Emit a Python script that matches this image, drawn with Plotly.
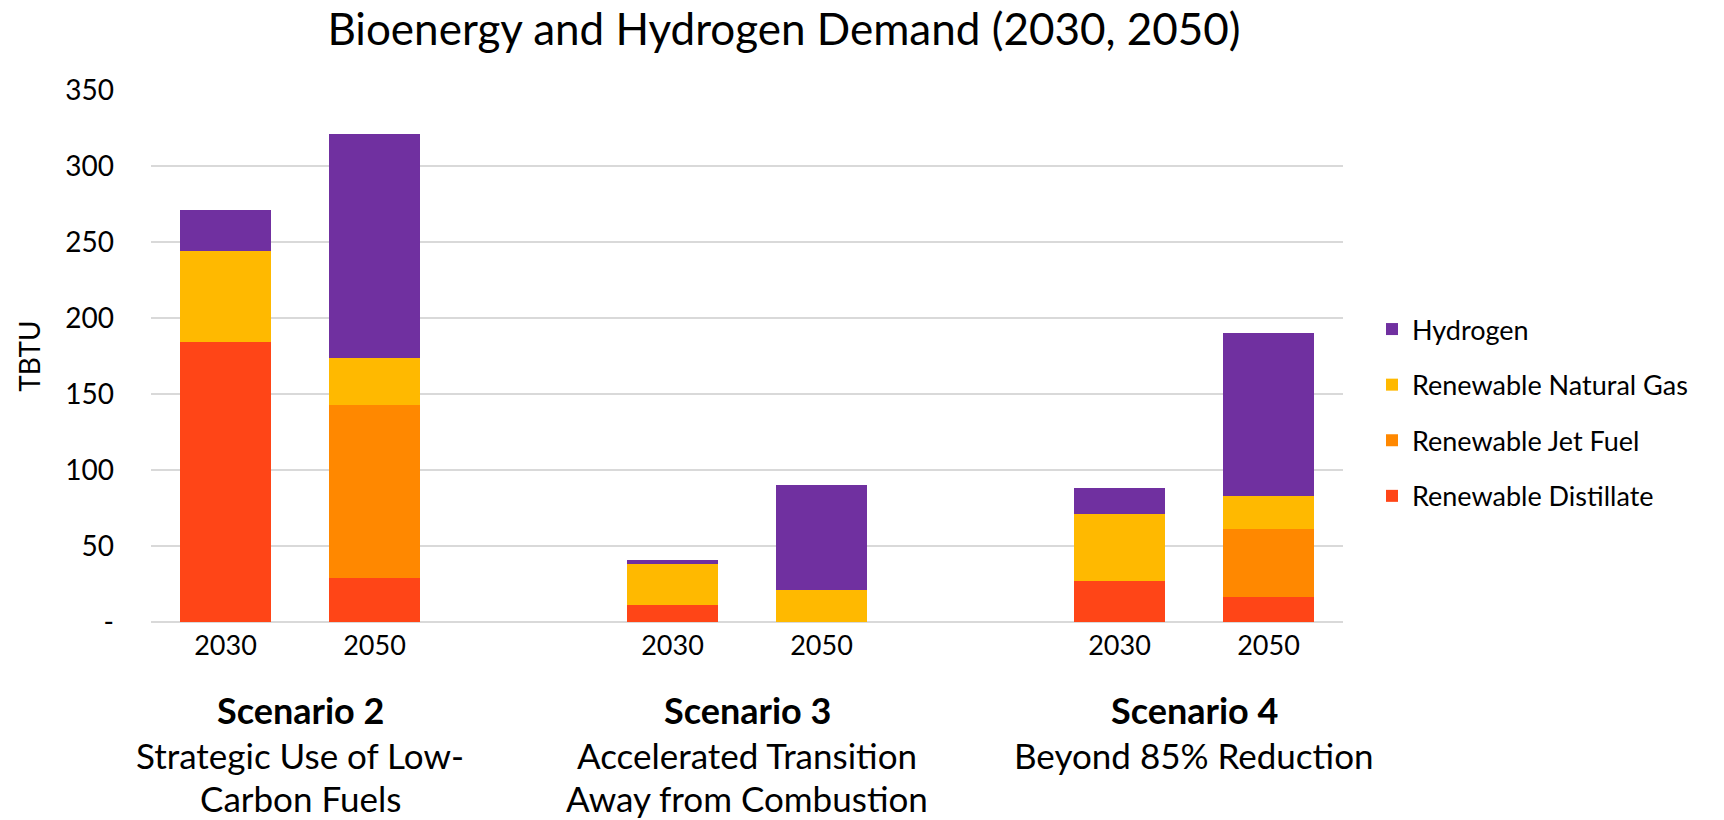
import plotly.graph_objects as go

scenarios = ["Scenario 2", "Scenario 3", "Scenario 4"]
scenario_desc = [
    ["Strategic Use of Low-", "Carbon Fuels"],
    ["Accelerated Transition", "Away from Combustion"],
    ["Beyond 85% Reduction"],
]
years = ["2030", "2050"]

# values per bar: S2-2030, S2-2050, S3-2030, S3-2050, S4-2030, S4-2050
distillate = [184, 29, 11, 0, 27, 16.5]
jet_fuel = [0, 114, 0, 0, 0, 44.5]
rng = [60, 30.5, 27, 21, 44, 22]
hydrogen = [27, 147.5, 3, 69, 17, 107]

series = [
    ("Renewable Distillate", distillate, "#FF4517", 4),
    ("Renewable Jet Fuel", jet_fuel, "#FF8800", 3),
    ("Renewable Natural Gas", rng, "#FFB900", 2),
    ("Hydrogen", hydrogen, "#7030A0", 1),
]

# slot positions: two bars per scenario, one empty slot between scenarios
xpos = []
xlabels = []
for g in range(len(scenarios)):
    for j, yr in enumerate(years):
        xpos.append(g * 3 + j)
        xlabels.append(yr)

FONT = "Lato"
OFF = 8  # page body margin
W, H = 1724 - OFF, 820 - OFF
# plot area in page pixels: x 151..1343, y 90..622
L, T = 151 - OFF, 90 - OFF
R, B = 1724 - 1343, 820 - 622
PW, PH = W - L - R, H - T - B


def py(page_y):
    """page y pixel -> paper y"""
    return (H - B - (page_y - OFF)) / PH


def px(page_x):
    return (page_x - OFF - L) / PW


fig = go.Figure()
for name, vals, col, rank in series:
    fig.add_trace(go.Bar(
        x=xpos, y=vals, name=name, marker=dict(color=col, line=dict(width=0)),
        width=0.61, legendgroup=name, legendrank=rank,
    ))

fig.update_layout(
    barmode="stack",
    width=W, height=H,
    paper_bgcolor="white", plot_bgcolor="white",
    margin=dict(l=L, r=R, t=T, b=B, autoexpand=False),
    font=dict(family=FONT, size=26, color="#000000"),
    title=dict(text="Bioenergy and Hydrogen Demand (2030, 2050)",
               x=(784 - OFF) / W, xanchor="center", y=1 - (30 - OFF) / H, yanchor="middle",
               font=dict(family=FONT, size=44, color="#000000")),
    legend=dict(x=px(1372), xanchor="left", y=py(305), yanchor="top",
                traceorder="grouped", tracegroupgap=17.5,
                font=dict(family=FONT, size=27, color="#000000"),
                bgcolor="rgba(0,0,0,0)"),
    bargap=0,
)
fig.update_xaxes(
    range=[-0.5, 7.5], tickvals=xpos, ticktext=xlabels, showgrid=False,
    zeroline=False, showline=False, ticks="", ticklabelstandoff=5,
    tickfont=dict(family=FONT, size=27, color="#000000"),
)
fig.update_yaxes(
    range=[0, 350], tickvals=[0, 50, 100, 150, 200, 250, 300, 350],
    ticktext=["-", "50", "100", "150", "200", "250", "300", "350"],
    showgrid=True, gridcolor="#D9D9D9", gridwidth=1.5, zeroline=True,
    zerolinecolor="#D9D9D9", zerolinewidth=1.5, showline=False, ticks="",
    ticklabelstandoff=36,
    tickfont=dict(family=FONT, size=28, color="#000000"),
    title=dict(text="TBTU", font=dict(family=FONT, size=28, color="#000000"), standoff=16),
)

line_y = [710, 755, 798]
for g, sc in enumerate(scenarios):
    cx = g * 3 + 0.5
    lines = [("<b>" + sc + "</b>", 36)] + [(t, 35) for t in scenario_desc[g]]
    for k, (txt, fs) in enumerate(lines):
        fig.add_annotation(
            x=cx, xref="x", y=py(line_y[k]), yref="paper",
            text=txt, showarrow=False, xanchor="center", yanchor="middle",
            font=dict(family=FONT, size=fs, color="#000000"),
        )

fig.write_html("out.html")
